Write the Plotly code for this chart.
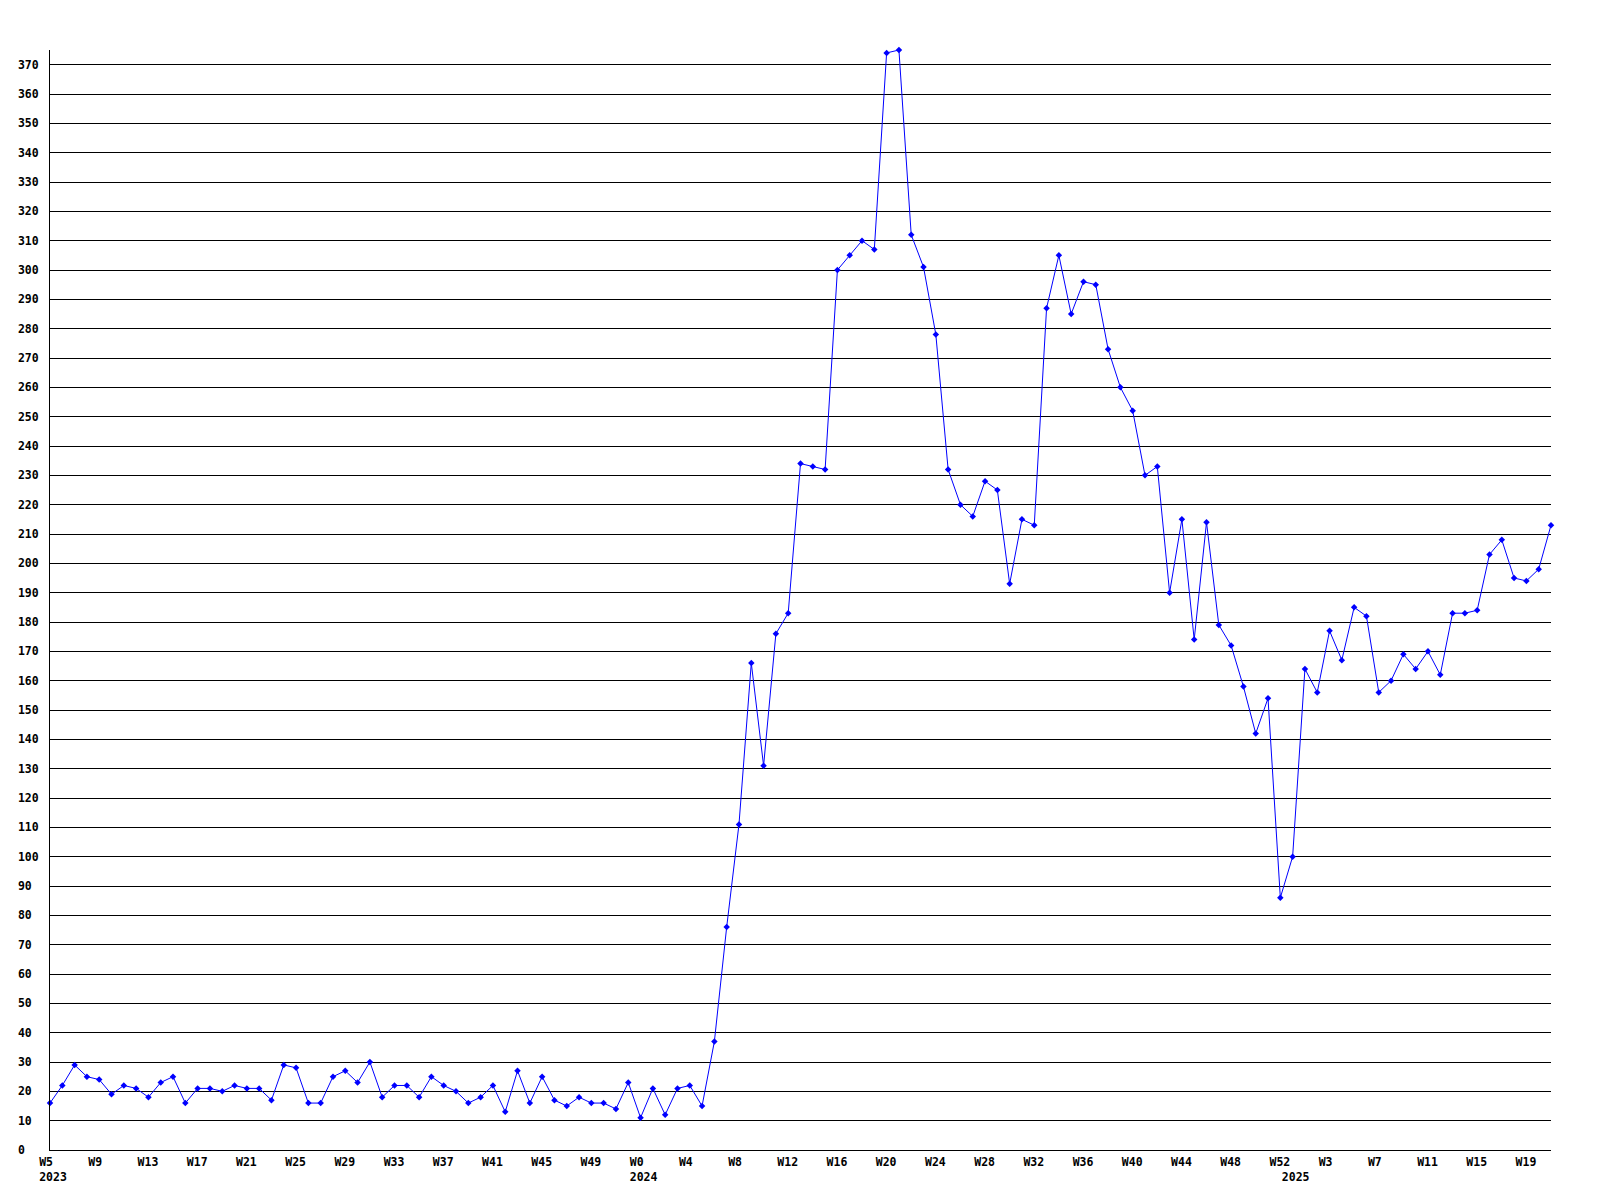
import plotly.graph_objects as go

# ---- data ----
weeks_2023 = [f"W{w}" for w in range(5, 53)]   # 48 weeks
weeks_2024 = [f"W{w}" for w in range(0, 53)]   # 53 weeks
weeks_2025 = [f"W{w}" for w in range(0, 22)]   # 22 weeks
years = ["2023", "2024", "2025"]

values_2023 = [16, 22, 29, 25, 24, 19, 22, 21, 18, 23, 25, 16, 21, 21, 20, 22,
               21, 21, 17, 29, 28, 16, 16, 25, 27, 23, 30, 18, 22, 22, 18, 25,
               22, 20, 16, 18, 22, 13, 27, 16, 25, 17, 15, 18, 16, 16, 14, 23]
values_2024 = [11, 21, 12, 21, 22, 15, 37, 76, 111, 166, 131, 176, 183, 234, 233, 232,
               300, 305, 310, 307, 374, 375, 312, 301, 278, 232, 220, 216, 228, 225,
               193, 215, 213, 287, 305, 285, 296, 295, 273, 260, 252, 230, 233, 190,
               215, 174, 214, 179, 172, 158, 142, 154, 86]
values_2025 = [100, 164, 156, 177, 167, 185, 182, 156, 160, 169, 164, 170, 162,
               183, 183, 184, 203, 208, 195, 194, 198, 213]

y_ticks = list(range(0, 380, 10))

# ---- build ----
week_labels = weeks_2023 + weeks_2024 + weeks_2025
values = values_2023 + values_2024 + values_2025
idx = list(range(len(values)))
year_start = {0: years[0], len(weeks_2023): years[1],
              len(weeks_2023) + len(weeks_2024): years[2]}

NB = "\u00a0"
tickvals, ticktext = [], []
for i in idx:
    on_step = (i % 4 == 0)
    if on_step or i in year_start:
        top = week_labels[i] if on_step else ""
        top = top + NB * (4 - len(top))
        txt = top
        if i in year_start:
            txt += "<br>" + year_start[i]
        tickvals.append(i)
        ticktext.append(txt)

ytext = [str(v) + NB * (3 - len(str(v))) for v in y_ticks]

font = dict(family="DejaVu Sans Mono", size=11.5, color="black", weight="bold")

fig = go.Figure()
fig.add_trace(go.Scatter(
    x=idx, y=values, mode="lines+markers",
    line=dict(color="#0000ff", width=1),
    marker=dict(symbol="diamond", size=5, color="#0000ff"),
    cliponaxis=False, hoverinfo="skip",
))

# page body has an 8px default margin, margins compensate for it
fig.update_layout(
    width=1600, height=1200,
    margin=dict(l=42, r=57, t=42, b=58),
    paper_bgcolor="white", plot_bgcolor="white",
    showlegend=False,
    font=font,
    xaxis=dict(
        range=[0, len(values) - 1],
        tickmode="array", tickvals=tickvals, ticktext=ticktext,
        showgrid=False, zeroline=False,
        showline=True, linecolor="black", linewidth=1,
        ticks="", tickfont=font, tickangle=0, automargin=False,
        ticklabelshift=3, ticklabelstandoff=1,
    ),
    yaxis=dict(
        range=[0, 375],
        tickmode="array", tickvals=y_ticks, ticktext=ytext,
        showgrid=True, gridcolor="black", gridwidth=1,
        zeroline=False, automargin=False,
        showline=True, linecolor="black", linewidth=1,
        ticks="", tickfont=font, ticklabelstandoff=8,
    ),
)

fig.write_html("out.html")
